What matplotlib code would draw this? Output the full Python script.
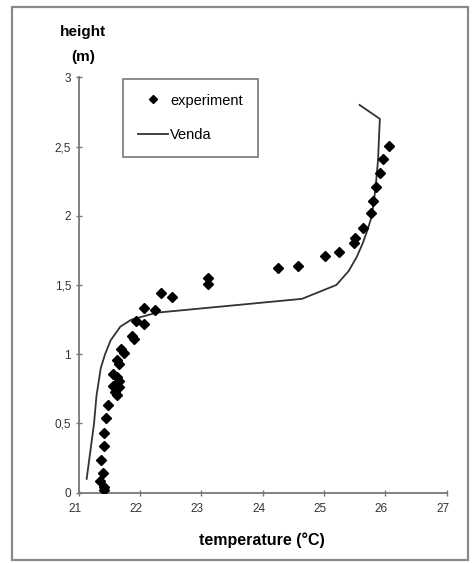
import matplotlib
matplotlib.use("Agg")
import matplotlib.pyplot as plt
from matplotlib.patches import Rectangle
from matplotlib.transforms import ScaledTranslation

plt.rcParams['font.family'] = ['Liberation Sans', 'DejaVu Sans']

# experiment data (temperature °C, height m)
exp_T = [26.06, 25.96, 25.91, 25.85, 25.80, 25.77, 25.64, 25.51, 25.49, 25.25,
         25.01, 24.57, 24.25, 23.11, 23.11, 22.34, 22.52, 22.07, 22.25, 21.93,
         22.07, 21.87, 21.90, 21.69, 21.74, 21.62, 21.66, 21.56, 21.62, 21.65,
         21.56, 21.65, 21.59, 21.62, 21.48, 21.45, 21.42, 21.42, 21.36, 21.39,
         21.34, 21.41, 21.42]
exp_h = [2.505, 2.41, 2.31, 2.21, 2.11, 2.02, 1.91, 1.84, 1.80, 1.74,
         1.71, 1.64, 1.62, 1.55, 1.51, 1.44, 1.41, 1.336, 1.317, 1.24,
         1.216, 1.13, 1.11, 1.035, 1.01, 0.958, 0.93, 0.855, 0.838, 0.81,
         0.77, 0.76, 0.73, 0.705, 0.633, 0.537, 0.433, 0.337, 0.234, 0.14,
         0.082, 0.039, 0.02]

# Venda simulation
ven_T = [21.13, 21.19, 21.25, 21.29, 21.36, 21.43, 21.52, 21.68, 21.86, 22.27,
         24.64, 25.20, 25.40, 25.53, 25.63, 25.71, 25.78, 25.84, 25.88, 25.91, 25.58]
ven_h = [0.1, 0.3, 0.5, 0.7, 0.9, 1.0, 1.1, 1.2, 1.25, 1.3,
         1.4, 1.5, 1.6, 1.7, 1.8, 1.9, 2.0, 2.2, 2.4, 2.7, 2.8]

x_ticks = [21, 22, 23, 24, 25, 26, 27]
y_ticks = [0, 0.5, 1, 1.5, 2, 2.5, 3]
y_labels = ['0', '0,5', '1', '1,5', '2', '2,5', '3']

W, H = 473, 563
fig = plt.figure(figsize=(W / 100, H / 100), dpi=100)
fig.patch.set_facecolor('white')

# outer frame
fig.patches.append(Rectangle((12 / W, 1 - 560 / H), (468 - 12) / W, (560 - 7) / H,
                             transform=fig.transFigure, fill=False,
                             edgecolor='#8a8a8a', lw=1.6))

ax = fig.add_axes([78.7 / W, 1 - 492.7 / H, (446.7 - 78.7) / W, (492.7 - 77.3) / H])

ax.plot(ven_T, ven_h, color='#333333', lw=1.3, label='Venda', zorder=2)
ax.plot(exp_T, exp_h, linestyle='none', marker='D', markersize=4.6,
        color='black', label='experiment', zorder=3)

ax.set_xlim(21, 27)
ax.set_ylim(0, 3)
ax.set_xticks(x_ticks)
ax.set_xticklabels([str(t) for t in x_ticks])
ax.set_yticks(y_ticks)
ax.set_yticklabels(y_labels)

for s in ['top', 'right']:
    ax.spines[s].set_visible(False)
for s in ['left', 'bottom']:
    ax.spines[s].set_color('#777777')
    ax.spines[s].set_linewidth(1.3)

ax.tick_params(axis='both', direction='inout', length=5, width=1,
               color='#777777', labelsize=8.5, labelcolor='#333333')
ax.tick_params(axis='x', pad=5)
ax.tick_params(axis='y', pad=3)

shift = ScaledTranslation(-4 / 100, 0, fig.dpi_scale_trans)
for lab in ax.get_xticklabels():
    lab.set_transform(lab.get_transform() + shift)

fig.text(83 / W, 1 - 32 / H, 'height', ha='center', va='center',
         fontsize=11, fontweight='bold')
fig.text(83 / W, 1 - 57 / H, '(m)', ha='center', va='center',
         fontsize=11, fontweight='bold')
fig.text(262 / W, 1 - 540 / H, 'temperature (°C)', ha='center', va='center',
         fontsize=11.5, fontweight='bold')

handles, labels = ax.get_legend_handles_labels()
leg = ax.legend(handles[::-1], labels[::-1], loc='upper left',
                bbox_to_anchor=((123 - 78.7) / (446.7 - 78.7), 1 - (79 - 77.3) / (492.7 - 77.3)),
                frameon=True, fancybox=False, fontsize=10.5, labelspacing=1.4,
                borderpad=1.0, handlelength=2.1, handletextpad=0.15,
                borderaxespad=0, markerscale=0.8)
leg.get_frame().set_edgecolor('#555555')
leg.get_frame().set_linewidth(1.2)

fig.savefig('out.png', dpi=100, facecolor='white')
